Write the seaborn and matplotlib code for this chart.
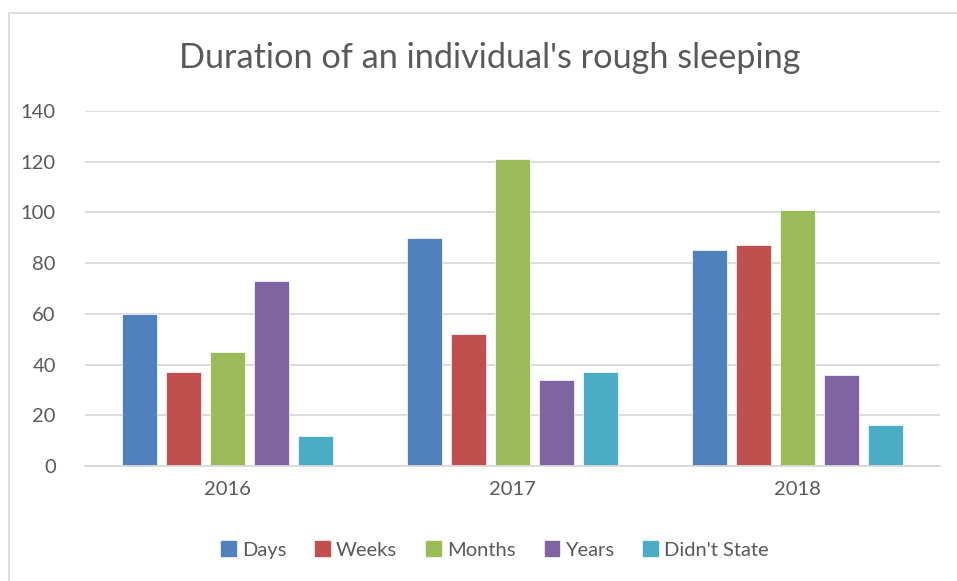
import matplotlib
matplotlib.use("Agg")
import matplotlib.pyplot as plt
import matplotlib.patches as mpatches
import pandas as pd
import seaborn as sns

years = ["2016", "2017", "2018"]
durations = ["Days", "Weeks", "Months", "Years", "Didn't State"]
days = [60, 90, 85]
weeks = [37, 52, 87]
months = [45, 121, 101]
years_vals = [73, 34, 36]
didnt_state = [12, 37, 16]
colors = ["#4F81BD", "#C0504D", "#9BBB59", "#8064A2", "#4BACC6"]

series = [days, weeks, months, years_vals, didnt_state]
rows = []
for name, vals in zip(durations, series):
    for yr, v in zip(years, vals):
        rows.append({"year": yr, "duration": name, "count": v})
df = pd.DataFrame(rows)

sns.set_style("white")
plt.rcParams["font.family"] = ["Lato", "DejaVu Sans"]
text_col = "#595959"

fig = plt.figure(figsize=(9.57, 5.81), dpi=100)
ax = fig.add_axes([85 / 957, 1 - 466 / 581, 855 / 957, 355 / 581])

sns.barplot(data=df, x="year", y="count", hue="duration", order=years,
            hue_order=durations, palette=colors, saturation=1, width=0.77,
            gap=0.2, edgecolor="white", linewidth=0.5, ax=ax, legend=True)

ax.set_ylim(0, 140)
ax.set_xlim(-0.5, 2.5)
ax.set_yticks(range(0, 141, 20))
ax.yaxis.grid(True, color="#D9D9D9", linewidth=1.3)
ax.set_axisbelow(True)
for s in ["top", "right", "left"]:
    ax.spines[s].set_visible(False)
ax.spines["bottom"].set_color("#D9D9D9")
ax.spines["bottom"].set_linewidth(1.3)
ax.tick_params(axis="both", length=0, labelsize=14.5, labelcolor=text_col)
ax.tick_params(axis="y", pad=21)
ax.tick_params(axis="x", pad=11)
ax.set_xlabel("")
ax.set_ylabel("")

ax.get_legend().remove()
handles = [mpatches.Patch(color=c, label=n) for c, n in zip(colors, durations)]
fig.legend(handles=handles, loc="center", bbox_to_anchor=(495 / 957, 1 - 550 / 581),
           ncol=5, frameon=False, fontsize=14.5, handlelength=0.72, handleheight=0.72,
           handletextpad=0.3, columnspacing=1.45, labelcolor=text_col)

fig.text(490 / 957, 1 - 58 / 581, "Duration of an individual's rough sleeping",
         ha="center", va="center", fontsize=24.7, color=text_col)

border = mpatches.Rectangle((9 / 957, -0.01), 1.0, 1 - 13 / 581 + 0.01,
                            transform=fig.transFigure, fill=False,
                            edgecolor="#D9D9D9", linewidth=1.2)
fig.patches.append(border)

fig.savefig("out.png", dpi=100)
